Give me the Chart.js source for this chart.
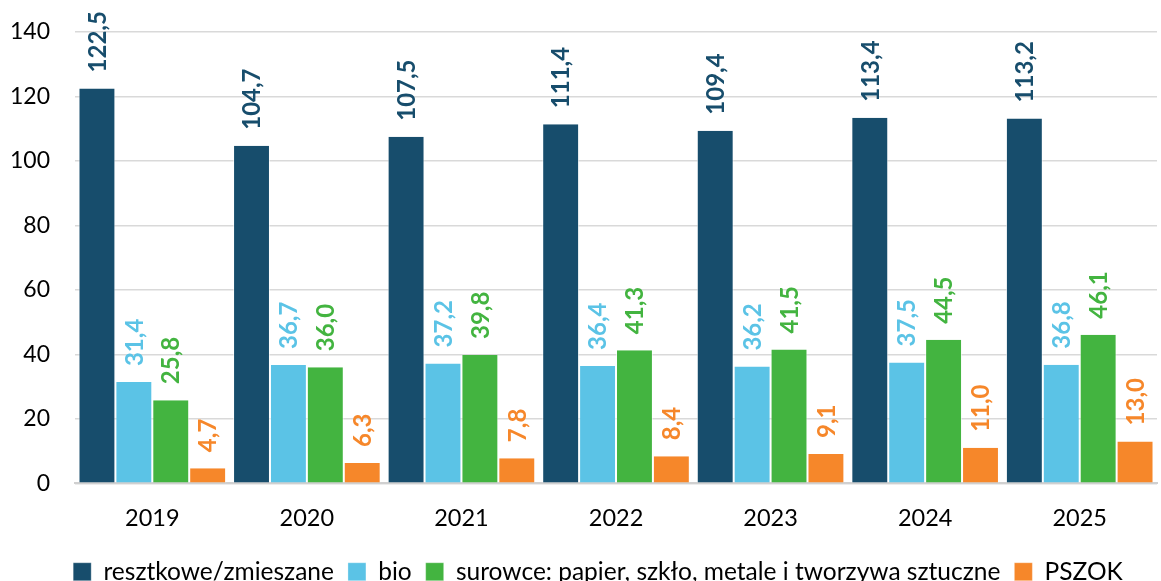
<!DOCTYPE html>
<html>
<head>
<meta charset="utf-8">
<script src="https://cdn.jsdelivr.net/npm/chart.js@4"></script>
<style>
  html, body { margin: 0; padding: 0; background: #fff; overflow: hidden; }
  #wrap { width: 1161px; height: 581px; }
</style>
</head>
<body>
<div id="wrap"><canvas id="chart_wrap"></canvas></div>
<script>
const years = ['2019', '2020', '2021', '2022', '2023', '2024', '2025'];
const resztkowe = [122.5, 104.7, 107.5, 111.4, 109.4, 113.4, 113.2];
const bio = [31.4, 36.7, 37.2, 36.4, 36.2, 37.5, 36.8];
const surowce = [25.8, 36.0, 39.8, 41.3, 41.5, 44.5, 46.1];
const pszok = [4.7, 6.3, 7.8, 8.4, 9.1, 11.0, 13.0];
const yTicks = [0, 20, 40, 60, 80, 100, 120, 140];

const FONT = 'Lato, "Open Sans", sans-serif';

// etykiety wartości obrócone o 90 stopni nad słupkami
const barLabels = {
  id: 'barLabels',
  afterDatasetsDraw(chart) {
    const ctx = chart.ctx;
    chart.data.datasets.forEach((ds, i) => {
      const meta = chart.getDatasetMeta(i);
      meta.data.forEach((bar, j) => {
        const txt = ds.data[j].toFixed(1).replace('.', ',');
        ctx.save();
        ctx.translate(bar.x, bar.y - 16);
        ctx.rotate(-Math.PI / 2);
        ctx.font = 'bold 24px ' + FONT;
        ctx.fillStyle = ds.backgroundColor;
        ctx.textAlign = 'left';
        ctx.textBaseline = 'middle';
        ctx.fillText(txt, 0, 1);
        ctx.restore();
      });
    });
  }
};

// legenda jest w oryginale przesunięta nieco w prawo
const legendShift = {
  id: 'legendShift',
  afterLayout(chart) {
    chart.legend.left += 27;
    chart.legend.right += 27;
  }
};

function makeDs(label, data, color) {
  return {
    label: label,
    data: data,
    backgroundColor: color,
    borderColor: 'rgba(255,255,255,0.6)',
    borderWidth: { left: 1, right: 1 },
    borderSkipped: false,
    barPercentage: 1.0,
    categoryPercentage: 0.955
  };
}

new Chart(document.getElementById('chart_wrap').getContext('2d'), {
  type: 'bar',
  data: {
    labels: years,
    datasets: [
      makeDs('resztkowe/zmieszane', resztkowe, '#174d6c'),
      makeDs('bio', bio, '#5bc3e6'),
      makeDs('surowce: papier, szkło, metale i tworzywa sztuczne', surowce, '#43b440'),
      makeDs('PSZOK', pszok, '#f6872a')
    ]
  },
  options: {
    responsive: true,
    maintainAspectRatio: false,
    animation: false,
    layout: { padding: { top: 32, right: 4, left: -15, bottom: -13 } },
    plugins: {
      tooltip: { enabled: false },
      legend: {
        position: 'bottom',
        labels: {
          font: { family: FONT, size: 24.5 },
          color: '#000',
          boxWidth: 18,
          boxHeight: 18,
          padding: 14
        }
      }
    },
    scales: {
      x: {
        grid: { display: false },
        border: { display: true, color: '#d0d0d0', width: 2 },
        ticks: { font: { family: FONT, size: 23.5 }, color: '#000', padding: 13 }
      },
      y: {
        min: 0,
        max: 140,
        afterBuildTicks: (axis) => { axis.ticks = yTicks.map(v => ({ value: v })); },
        // padding etykiet nie powinien przesuwać obszaru wykresu w pionie
        afterFit: (axis) => { axis.paddingTop = 12; axis.paddingBottom = 12; },
        grid: { color: '#d9d9d9', lineWidth: 1.5, drawTicks: false },
        border: { display: false },
        ticks: { font: { family: FONT, size: 23 }, color: '#000', padding: 25 }
      }
    }
  },
  plugins: [barLabels, legendShift]
});
</script>
</body>
</html>
